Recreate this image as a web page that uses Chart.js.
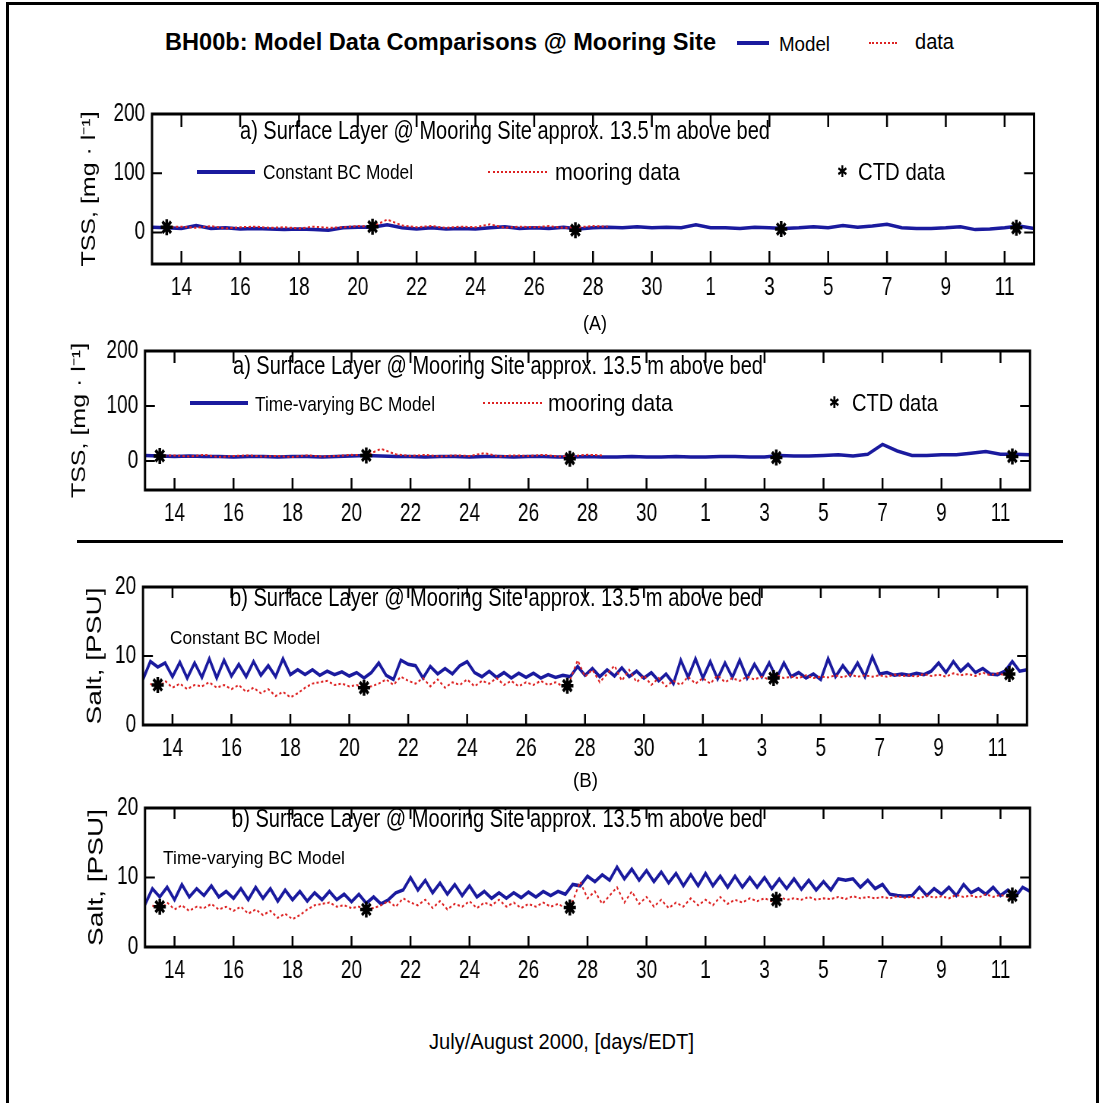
<!DOCTYPE html>
<html>
<head>
<meta charset="utf-8">
<script src="https://cdn.jsdelivr.net/npm/chart.js@4"></script>
<style>
  html, body { margin: 0; padding: 0; background: #fff; }
  #page { position: relative; width: 1107px; height: 1103px; overflow: hidden; background: #fff; }
  .wrap { position: absolute; left: 0; transform-origin: 0 0; }
  .wrap canvas { display: block; }
  .t { position: absolute; white-space: nowrap; color: #000; transform-origin: 0 50%;
       font-family: 'Liberation Sans', Arial, sans-serif; }
  .ln { position: absolute; }
</style>
</head>
<body>
<div id="page">
  <div style="position:absolute;left:6px;top:2px;width:1087px;height:1200px;border:3px solid #000;"></div>
  <div class="ln" style="left:77px;top:540px;width:986px;height:3px;background:#000"></div>
  <div class="wrap" id="w1"><canvas id="c1"></canvas></div>
  <div class="wrap" id="w2"><canvas id="c2"></canvas></div>
  <div class="wrap" id="w3"><canvas id="c3"></canvas></div>
  <div class="wrap" id="w4"><canvas id="c4"></canvas></div>
</div>
<script>
// x axis: day number (July 13 = 13, Aug 1 = 32)
const dayTicks = [14, 16, 18, 20, 22, 24, 26, 28, 30, 32, 34, 36, 38, 40, 42];
const dayTickLabels = ['14', '16', '18', '20', '22', '24', '26', '28', '30', '1', '3', '5', '7', '9', '11'];
const tssTicks = [0, 100, 200];
const saltTicks = [0, 10, 20];

// CTD casts
const ctdDays = [13.5, 20.5, 27.4, 34.4, 42.4];
const ctdTss = [9, 10, 4, 6, 8];
const ctdSalt = [5.8, 5.4, 5.7, 6.8, 7.4];

// TSS, sampled every half day from day 13
const tssStart = 13, tssStep = 0.5;
const tssModelConstant = [
  9, 8, 7, 12, 7, 8, 6, 7, 6, 5, 6, 5, 4, 8, 9, 9, 13, 8, 6, 8,
  6, 7, 6, 8, 10, 7, 8, 7, 9, 6, 8, 9, 8, 10, 8, 9, 8, 13, 8, 8,
  7, 9, 8, 7, 8, 10, 8, 12, 9, 11, 14, 8, 7, 7, 8, 10, 5, 6, 8, 11, 7
];
const tssModelVarying = [
  10, 9, 8, 9, 8, 8, 7, 8, 8, 7, 8, 8, 7, 8, 9, 10, 9, 8, 8, 7,
  8, 8, 7, 8, 8, 7, 8, 8, 7, 7, 8, 7, 7, 8, 7, 7, 8, 7, 7, 8,
  8, 7, 7, 10, 9, 9, 10, 11, 9, 12, 30, 18, 10, 10, 11, 11, 14, 17, 12, 12, 11
];
const tssMooring = [
  null, 9, 10, 8, 11, 7, 9, 10, 8, 9, 7, 10, 8, 9, 11, 10, 22, 12, 9, 11,
  8, 10, 9, 14, 8, 10, 9, 11, 8, 9, 11, 10, null, null, null, null, null, null, null, null,
  null, null, null, null, null, null, null, null, null, null, null, null, null, null, null, null, null, null, null, null, null
];

// Salinity, sampled every 6 hours from day 13
const saltStart = 13, saltStep = 0.25;
const saltModelConstant = [
  6.6, 9.2, 8.4, 9.0, 7.0, 9.1, 6.8, 9.0, 6.9, 9.6, 6.8, 9.4, 7.1, 8.8, 7.0, 9.2, 7.2, 8.6, 7.0, 9.6,
  7.3, 8.0, 7.3, 8.0, 7.2, 7.8, 7.3, 7.7, 7.1, 7.6, 6.8, 7.6, 9.0, 7.2, 6.6, 9.4, 8.8, 8.6, 6.8, 8.5,
  7.4, 8.2, 7.4, 8.6, 9.2, 7.6, 7.0, 7.8, 6.9, 7.6, 6.8, 7.5, 6.9, 7.5, 6.8, 7.3, 6.9, 7.2, 7.0, 8.5,
  7.2, 8.2, 7.0, 8.0, 7.1, 8.3, 7.0, 7.8, 6.8, 7.6, 6.4, 7.4, 6.0, 9.4, 6.9, 9.6, 6.8, 9.2, 6.7, 9.0,
  6.9, 9.4, 6.8, 8.8, 7.0, 9.0, 6.8, 9.0, 7.0, 7.6, 6.8, 7.4, 6.6, 9.6, 7.0, 8.6, 7.2, 9.0, 7.0, 9.9,
  7.4, 7.6, 7.2, 7.4, 7.2, 7.5, 7.3, 7.8, 9.0, 7.6, 9.2, 7.8, 8.8, 7.6, 8.2, 7.4, 7.3, 7.8, 9.2, 7.8,
  8.0
];
const saltModelVarying = [
  6.1, 8.4, 7.2, 8.6, 6.8, 9.0, 7.2, 8.4, 7.4, 8.8, 7.2, 8.0, 7.0, 8.4, 6.8, 8.6, 7.0, 8.4, 6.6, 8.2,
  6.8, 8.0, 6.6, 7.8, 6.8, 8.0, 6.8, 7.6, 6.5, 7.6, 6.3, 7.2, 6.2, 6.8, 7.8, 8.2, 10.0, 8.2, 9.6, 7.8,
  9.2, 7.6, 9.0, 7.4, 8.8, 7.2, 8.0, 7.0, 7.8, 7.0, 7.8, 7.1, 7.9, 7.2, 8.0, 7.4, 8.0, 7.6, 9.0, 8.8,
  10.2, 9.4, 10.4, 9.6, 11.5, 9.8, 11.2, 9.6, 11.0, 9.4, 10.8, 9.2, 10.6, 8.8, 10.4, 8.8, 10.6, 8.8, 10.2, 8.6,
  10.2, 8.6, 10.0, 8.6, 10.0, 8.4, 9.8, 8.4, 9.8, 8.3, 9.6, 8.2, 9.4, 8.2, 9.8, 9.6, 9.8, 8.6, 9.6, 8.4,
  9.0, 7.6, 7.4, 7.3, 7.4, 8.6, 7.4, 8.4, 7.6, 8.6, 7.4, 9.0, 7.8, 8.4, 7.6, 8.6, 7.4, 8.2, 7.2, 8.6,
  8.0
];
const saltMooring = [
  null, 6.0, 5.2, 6.4, 5.4, 6.0, 5.2, 5.8, 5.6, 6.2, 5.4, 5.8, 5.2, 5.8, 4.8, 5.4, 4.6, 5.2, 4.2, 4.8,
  4.0, 4.6, 5.4, 6.0, 6.2, 6.4, 5.8, 6.0, 5.6, 5.8, 5.4, 5.6, 6.0, 6.6, 5.8, 7.0, 6.4, 6.0, 6.8, 5.6,
  6.6, 5.4, 6.2, 5.8, 6.6, 5.6, 6.4, 6.0, 6.8, 5.8, 6.4, 5.6, 6.2, 5.8, 6.4, 5.8, 6.2, 5.6, 6.6, 9.4,
  7.0, 8.0, 6.2, 7.4, 8.6, 6.4, 8.0, 6.2, 7.2, 5.8, 6.8, 5.6, 6.4, 5.8, 7.0, 6.0, 6.8, 6.0, 7.2, 6.2,
  6.8, 6.4, 7.0, 6.6, 7.0, 6.6, 7.2, 6.8, 7.0, 6.8, 7.2, 6.8, 7.0, 6.9, 7.2, 6.9, 7.3, 7.0, 7.2, 7.0,
  7.2, 7.0, 7.3, 7.1, 7.2, 7.0, 7.4, 7.1, 7.3, 7.0, 7.5, 7.2, 7.4, 7.1, 7.6, 7.2, 7.5, 7.2, 7.4, null,
  null
];

const FONT = "'Liberation Sans', Arial, sans-serif";
const BLUE = '#1a1a9e';
const RED = '#dd2222';
// the figure is squeezed sideways; draw wide, then compress
const SQ = 0.76;

function points(values, start, step) {
  return values.map((v, i) => ({ x: start + i * step, y: v }));
}

// MATLAB style box with inward ticks on all four sides
const frame = {
  id: 'frame',
  afterDatasetsDraw(chart, args, opts) {
    const { ctx, chartArea: a, scales: { x, y } } = chart;
    ctx.save();
    ctx.strokeStyle = '#000';
    ctx.lineWidth = 3;
    ctx.strokeRect(a.left, a.top, a.right - a.left, a.bottom - a.top);
    ctx.lineWidth = 2.5;
    ctx.beginPath();
    x.ticks.forEach(t => {
      const px = x.getPixelForValue(t.value);
      ctx.moveTo(px, a.bottom); ctx.lineTo(px, a.bottom - opts.xTick);
      ctx.moveTo(px, a.top); ctx.lineTo(px, a.top + opts.xTick);
    });
    ctx.stroke();
    ctx.lineWidth = 2;
    ctx.beginPath();
    y.ticks.forEach(t => {
      const py = y.getPixelForValue(t.value);
      ctx.moveTo(a.left, py); ctx.lineTo(a.left + opts.yTick, py);
      ctx.moveTo(a.right, py); ctx.lineTo(a.right - opts.yTick, py);
    });
    ctx.stroke();
    ctx.restore();
  }
};

const panels = [
  { id: 'c1', wrap: 'w1', left: 152, right: 1034, top: 110, bottom: 264, ymin: -53, ymax: 200, yTicks: tssTicks,
    title: 'TSS, [mg · l⁻¹]', titleSize: 25, titleX: 90, model: tssModelConstant, obs: tssMooring,
    start: tssStart, step: tssStep, ctd: ctdTss, xTick: 13 },
  { id: 'c2', wrap: 'w2', left: 145, right: 1030, top: 347, bottom: 490, ymin: -53, ymax: 200, yTicks: tssTicks,
    title: 'TSS, [mg · l⁻¹]', titleSize: 25, titleX: 80, model: tssModelVarying, obs: tssMooring,
    start: tssStart, step: tssStep, ctd: ctdTss, xTick: 12 },
  { id: 'c3', wrap: 'w3', left: 143, right: 1027, top: 583, bottom: 725, ymin: 0, ymax: 20, yTicks: saltTicks,
    title: 'Salt, [PSU]', titleSize: 28, titleX: 95, model: saltModelConstant, obs: saltMooring,
    start: saltStart, step: saltStep, ctd: ctdSalt, xTick: 11 },
  { id: 'c4', wrap: 'w4', left: 145, right: 1030, top: 804, bottom: 947, ymin: 0, ymax: 20, yTicks: saltTicks,
    title: 'Salt, [PSU]', titleSize: 28, titleX: 97, model: saltModelVarying, obs: saltMooring,
    start: saltStart, step: saltStep, ctd: ctdSalt, xTick: 11 }
];

const W = Math.round(1107 / SQ);

panels.forEach(p => {
  const wrap = document.getElementById(p.wrap);
  wrap.style.top = (p.top - 20) + 'px';
  wrap.style.transform = 'scaleX(' + SQ + ')';
  const cv = document.getElementById(p.id);
  cv.width = W;
  cv.height = p.bottom - p.top + 60;
  new Chart(cv, {
    type: 'scatter',
    data: {
      datasets: [{
        label: 'CTD data',
        data: ctdDays.map((d, i) => ({ x: d, y: p.ctd[i] })),
        pointStyle: 'star', pointRadius: 8, borderWidth: 3.5,
        borderColor: '#000', backgroundColor: '#000', showLine: false
      }, {
        label: 'mooring data',
        data: points(p.obs, p.start, p.step),
        showLine: true, borderColor: RED, borderWidth: 2, borderDash: [3, 3],
        pointRadius: 0, spanGaps: false
      }, {
        label: 'Model',
        data: points(p.model, p.start, p.step),
        showLine: true, borderColor: BLUE, borderWidth: 3.5, pointRadius: 0
      }]
    },
    options: {
      responsive: false,
      animation: false,
      events: [],
      layout: { padding: { left: 0, top: 20, right: W - p.right / SQ, bottom: 0 } },
      plugins: {
        legend: { display: false },
        tooltip: { enabled: false },
        frame: { xTick: p.xTick, yTick: 13 }
      },
      scales: {
        x: {
          type: 'linear', min: 13, max: 43,
          grid: { display: false, drawTicks: false },
          border: { display: false },
          afterBuildTicks: s => { s.ticks = dayTicks.map(v => ({ value: v })); },
          afterFit: s => { s.height = 40; },
          ticks: {
            autoSkip: false, maxRotation: 0, padding: 9, color: '#000',
            font: { family: FONT, size: 25 },
            callback: v => dayTickLabels[dayTicks.indexOf(v)]
          }
        },
        y: {
          min: p.ymin, max: p.ymax,
          grid: { display: false, drawTicks: false },
          border: { display: false },
          afterBuildTicks: s => { s.ticks = p.yTicks.map(v => ({ value: v })); },
          afterFit: s => { s.width = p.left / SQ; },
          ticks: { padding: 9, color: '#000', font: { family: FONT, size: 25 } },
          title: {
            display: true, text: p.title, color: '#000',
            font: { family: FONT, size: p.titleSize },
            padding: { top: p.titleX / SQ - p.titleSize * 0.6, bottom: 0 }
          }
        }
      }
    },
    plugins: [frame]
  });
});

// free text, squeezed to the width it has in the figure
const page = document.getElementById('page');
function text(str, left, cy, size, width, bold) {
  const el = document.createElement('div');
  el.className = 't';
  el.textContent = str;
  el.style.left = left + 'px';
  el.style.top = (cy - size / 2) + 'px';
  el.style.fontSize = size + 'px';
  el.style.lineHeight = size + 'px';
  if (bold) el.style.fontWeight = 'bold';
  page.appendChild(el);
  const w = el.getBoundingClientRect().width;
  el.style.transform = 'scaleX(' + (width / w) + ')';
}
function solid(x1, x2, y) {
  const el = document.createElement('div');
  el.className = 'ln';
  el.style.cssText += `left:${x1}px;top:${y - 2}px;width:${x2 - x1}px;height:4px;background:${BLUE}`;
  page.appendChild(el);
}
function dotted(x1, x2, y) {
  const el = document.createElement('div');
  el.className = 'ln';
  el.style.cssText += `left:${x1}px;top:${y - 1}px;width:${x2 - x1}px;height:0;border-top:2px dotted ${RED}`;
  page.appendChild(el);
}
function star(cx, cy) {
  const el = document.createElement('div');
  el.className = 't';
  el.textContent = '✱';
  el.style.fontFamily = "'DejaVu Sans', sans-serif";
  el.style.fontSize = '16px';
  el.style.lineHeight = '16px';
  el.style.left = (cx - 6) + 'px';
  el.style.top = (cy - 8) + 'px';
  page.appendChild(el);
  el.style.transform = 'scaleX(0.8)';
}

const siteA = 'a) Surface Layer @ Mooring Site approx. 13.5 m above bed';
const siteB = 'b) Surface Layer @ Mooring Site approx. 13.5 m above bed';

text('BH00b: Model Data Comparisons @ Mooring Site', 165, 42, 24, 551, true);
solid(737, 769, 43); text('Model', 779, 44, 20, 51);
dotted(869, 897, 43); text('data', 915, 42, 22, 39);

text(siteA, 240, 130, 25, 530);
solid(197, 255, 172); text('Constant BC Model', 263, 172, 20, 150);
dotted(488, 547, 172); text('mooring data', 555, 172, 24, 125);
star(843, 172); text('CTD data', 858, 172, 24, 87);
text('(A)', 583, 323, 20, 24);

text(siteA, 233, 365, 25, 530);
solid(190, 248, 403); text('Time-varying BC Model', 255, 403, 21, 180);
dotted(483, 542, 403); text('mooring data', 548, 403, 24, 125);
star(835, 403); text('CTD data', 852, 403, 24, 86);

text(siteB, 230, 597, 25, 532);
text('Constant BC Model', 170, 637, 19, 150);
text('(B)', 573, 780, 20, 25);

text(siteB, 232, 818, 25, 531);
text('Time-varying BC Model', 163, 857, 19, 182);

text('July/August 2000, [days/EDT]', 429, 1042, 22, 265);
</script>
</body>
</html>
